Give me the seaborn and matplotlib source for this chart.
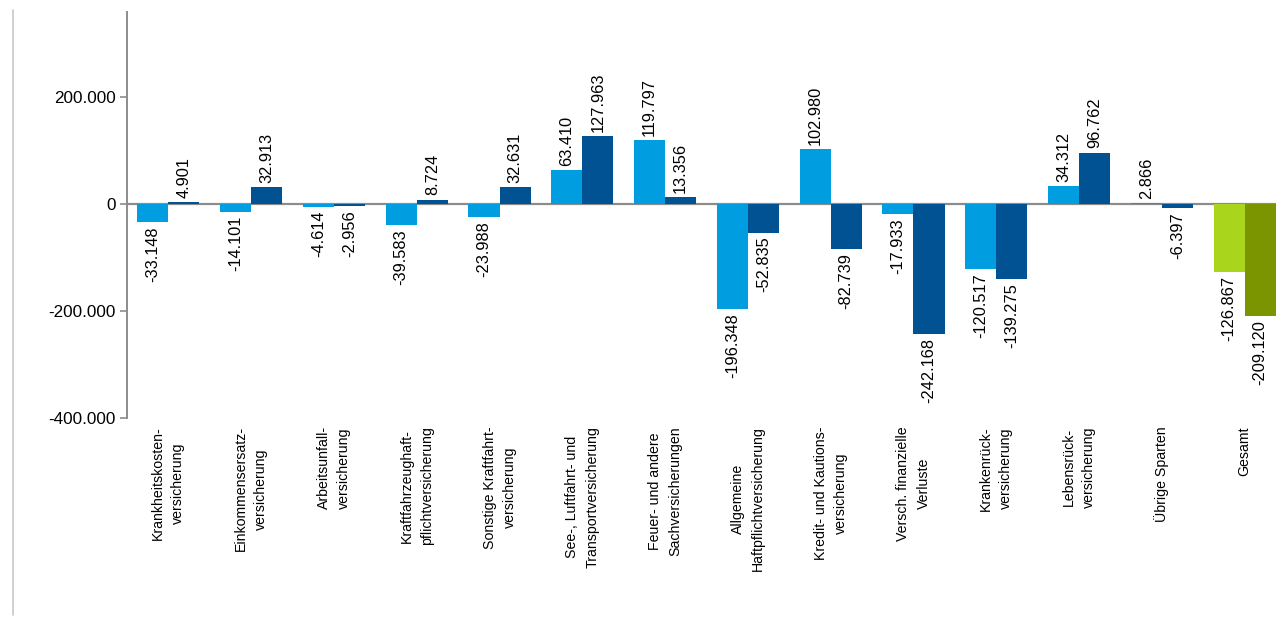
import matplotlib
matplotlib.use("Agg")
import matplotlib.pyplot as plt
from matplotlib.lines import Line2D
import seaborn as sns
import pandas as pd

categories = [
    "Krankheitskosten-\nversicherung",
    "Einkommensersatz-\nversicherung",
    "Arbeitsunfall-\nversicherung",
    "Kraftfahrzeughaft-\npflichtversicherung",
    "Sonstige Kraftfahrt-\nversicherung",
    "See-, Luftfahrt- und\nTransportversicherung",
    "Feuer- und andere\nSachversicherungen",
    "Allgemeine\nHaftpflichtversicherung",
    "Kredit- und Kautions-\nversicherung",
    "Versch. finanzielle\nVerluste",
    "Krankenrück-\nversicherung",
    "Lebensrück-\nversicherung",
    "Übrige Sparten",
    "Gesamt",
]
series_a = [-33148, -14101, -4614, -39583, -23988, 63410, 119797, -196348,
            102980, -17933, -120517, 34312, 2866, -126867]
series_b = [4901, 32913, -2956, 8724, 32631, 127963, 13356, -52835,
            -82739, -242168, -139275, 96762, -6397, -209120]
series_names = ["Serie A", "Serie B"]
yticks = [-400000, -200000, 0, 200000]

LIGHT_BLUE = "#009de0"
DARK_BLUE = "#005293"
LIGHT_GREEN = "#a9d51c"
DARK_GREEN = "#7a9500"
GRAY = "#8c8c8c"

df = pd.DataFrame({
    "Sparte": categories * 2,
    "Serie": [series_names[0]] * len(categories) + [series_names[1]] * len(categories),
    "Wert": series_a + series_b,
})

sns.set_theme(style="white")
plt.rcParams["font.family"] = ["Liberation Sans", "DejaVu Sans"]

fig = plt.figure(figsize=(12.76, 6.2), dpi=100)
ax = fig.add_axes([127 / 1276, 1 - 418 / 620, 1159 / 1276, (418 - 12) / 620])

sns.barplot(data=df, x="Sparte", y="Wert", hue="Serie", order=categories,
            hue_order=series_names, palette=[LIGHT_BLUE, DARK_BLUE],
            saturation=1, width=0.75, linewidth=0, ax=ax, legend=False)

# Gesamt group in green
gi = categories.index("Gesamt")
ax.containers[0][gi].set_facecolor(LIGHT_GREEN)
ax.containers[1][gi].set_facecolor(DARK_GREEN)

def fmt(v):
    return f"{v:,.0f}".replace(",", ".")

for cont, vals in zip(ax.containers, [series_a, series_b]):
    ax.bar_label(cont, labels=[fmt(v) for v in vals], rotation=90,
                 padding=3, fontsize=11.8, color="#000000")

ax.set_xlim(-0.5, len(categories) - 0.5)
ax.set_ylim(-400000, 360000)
ax.set_yticks(yticks)
ax.set_yticklabels([fmt(v) for v in yticks], fontsize=12.3, color="#000000")
ax.axhline(0, color=GRAY, lw=1.6, zorder=0.5)

ax.set_xlabel("")
ax.set_ylabel("")
ax.tick_params(axis="x", length=0, pad=6, labelsize=10.2, labelcolor="#000000")
ax.tick_params(axis="y", left=True, length=5, width=1.2, color=GRAY, pad=3)
for lbl in ax.get_xticklabels():
    lbl.set_rotation(90)
    lbl.set_ha("center")
    lbl.set_va("top")
    lbl.set_multialignment("center")
    lbl.set_linespacing(1.55)

for s in ["top", "right", "bottom"]:
    ax.spines[s].set_visible(False)
ax.spines["left"].set_color(GRAY)
ax.spines["left"].set_linewidth(1.4)

fig.add_artist(Line2D([13 / 1276, 13 / 1276], [5 / 620, 610 / 620],
                      color="#c8c8c8", lw=1.2, transform=fig.transFigure))

fig.savefig("out.png", dpi=100)
